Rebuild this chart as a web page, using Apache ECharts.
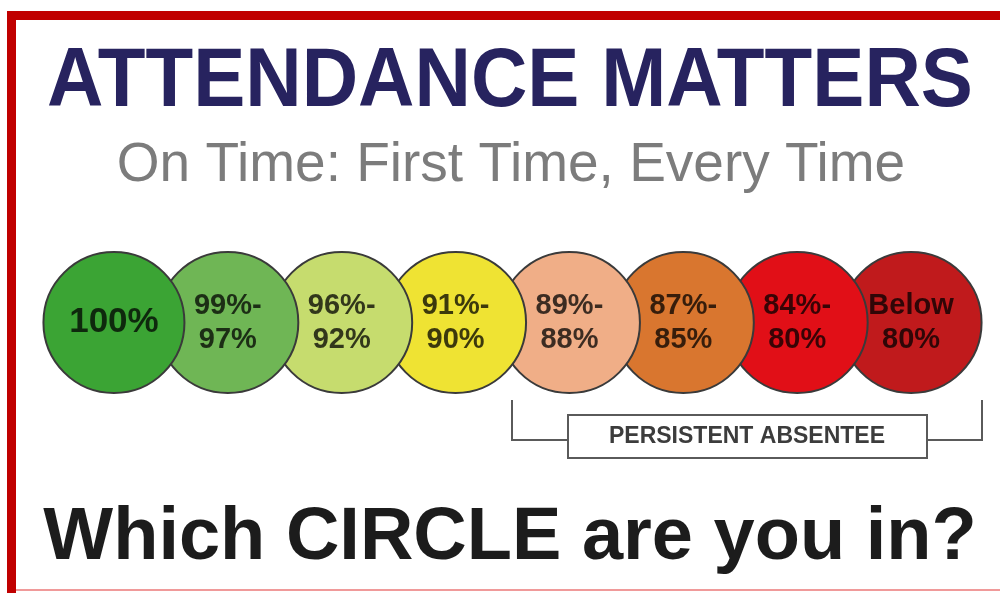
<!DOCTYPE html>
<html>
<head>
<meta charset="utf-8">
<script src="https://cdn.jsdelivr.net/npm/echarts@6/dist/echarts.min.js"></script>
<style>
  html, body { margin: 0; padding: 0; background: #fff; }
  #main { width: 1000px; height: 593px; }
</style>
</head>
<body>
<div id="main"></div>
<script>
// attendance bands, left to right
var bands = ['100%', '99%-\n97%', '96%-\n92%', '91%-\n90%', '89%-\n88%', '87%-\n85%', '84%-\n80%', 'Below\n80%'];
var bandColors = ['#3ba434', '#6fb655', '#c6dc6e', '#efe333', '#f0ae87', '#d9762f', '#e10f17', '#c01a1c'];
// every circle sits on the same row
var rowValues = [1, 1, 1, 1, 1, 1, 1, 1];

var FONT = "'Liberation Sans', Arial, Helvetica, sans-serif";

var myChart = echarts.init(document.getElementById('main'));

// draw right to left so the left circle overlaps its neighbour
var points = bands.map(function (b, i) {
    return {
        name: b,
        value: [i, rowValues[i]],
        itemStyle: { color: bandColors[i] },
        label: i === 0 ? { fontSize: 35 } : {}
    };
}).reverse();

myChart.setOption({
    backgroundColor: '#fff',
    animation: false,
    grid: { left: 57, right: 32, top: 252, height: 141 },
    xAxis: {
        type: 'category',
        data: bands,
        show: false
    },
    yAxis: { type: 'value', min: 0, max: 2, show: false },
    series: [{
        type: 'scatter',
        symbol: 'circle',
        symbolSize: 141,
        itemStyle: { borderColor: '#3a3a3a', borderWidth: 2, opacity: 1 },
        label: {
            show: true,
            position: 'inside',
            formatter: '{b}',
            fontFamily: FONT,
            fontWeight: 'bold',
            fontSize: 29,
            lineHeight: 34,
            color: 'rgba(0,0,0,0.75)'
        },
        emphasis: { disabled: true },
        data: points
    }],
    graphic: [
        // red frame
        { type: 'rect', shape: { x: 7, y: 11, width: 993, height: 9 }, style: { fill: '#c00000' } },
        { type: 'rect', shape: { x: 7, y: 11, width: 9, height: 582 }, style: { fill: '#c00000' } },
        { type: 'rect', shape: { x: 16, y: 589, width: 984, height: 2 }, style: { fill: '#f09a9a' } },
        // headings
        {
            type: 'text', x: 510, y: 83, scaleX: 0.93,
            style: { text: 'ATTENDANCE MATTERS', font: 'bold 84px ' + FONT, fill: '#27235f',
                textAlign: 'center', textVerticalAlign: 'middle', align: 'center', verticalAlign: 'middle' }
        },
        {
            type: 'text', x: 511, y: 166,
            style: { text: 'On Time: First Time, Every Time', font: '55px ' + FONT, fill: '#7c7c7c',
                textAlign: 'center', textVerticalAlign: 'middle', align: 'center', verticalAlign: 'middle' }
        },
        // persistent absentee bracket
        { type: 'polyline', shape: { points: [[512, 400], [512, 440], [568, 440]] }, style: { stroke: '#5a5a5a', lineWidth: 2, fill: null } },
        { type: 'polyline', shape: { points: [[927, 440], [982, 440], [982, 400]] }, style: { stroke: '#5a5a5a', lineWidth: 2, fill: null } },
        { type: 'rect', shape: { x: 568, y: 415, width: 359, height: 43 }, style: { fill: '#fff', stroke: '#5a5a5a', lineWidth: 2 } },
        {
            type: 'text', x: 747, y: 437,
            style: { text: 'PERSISTENT ABSENTEE', font: 'bold 23px ' + FONT, fill: '#3c3c3c',
                textAlign: 'center', textVerticalAlign: 'middle', align: 'center', verticalAlign: 'middle' }
        },
        {
            type: 'text', x: 510, y: 539,
            style: { text: 'Which CIRCLE are you in?', font: 'bold 74px ' + FONT, fill: '#1c1c1c',
                textAlign: 'center', textVerticalAlign: 'middle', align: 'center', verticalAlign: 'middle' }
        }
    ]
});
</script>
</body>
</html>
